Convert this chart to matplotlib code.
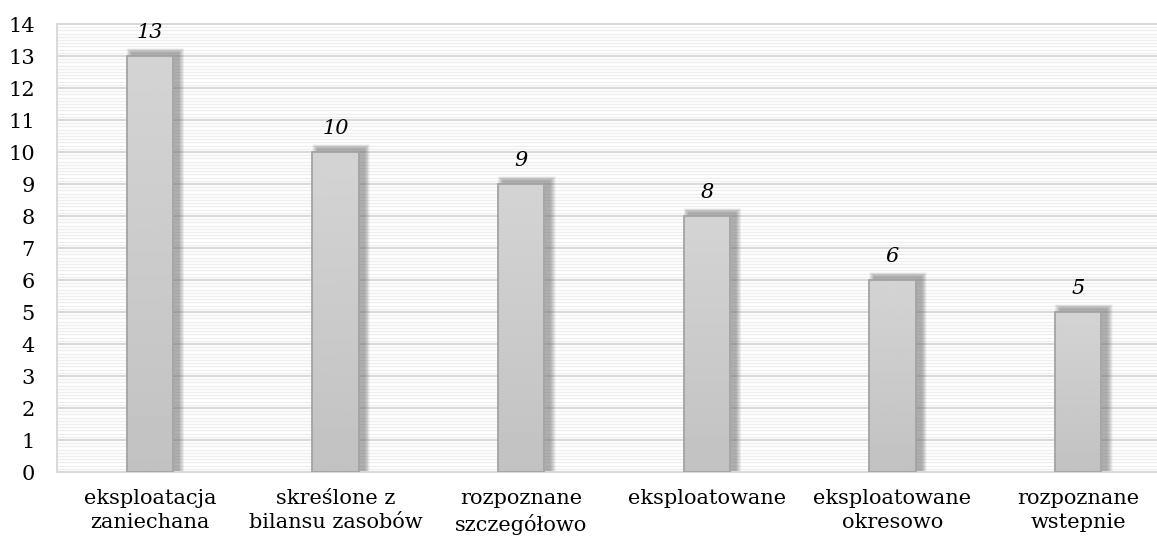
import numpy as np
import matplotlib.pyplot as plt
from matplotlib.patches import Rectangle

categories = ["eksploatacja\nzaniechana", "skreślone z\nbilansu zasobów", "rozpoznane\nszczegółowo",
              "eksploatowane", "eksploatowane\nokresowo", "rozpoznane\nwstepnie"]
values = [13, 10, 9, 8, 6, 5]
yticks = list(range(0, 15))

plt.rcParams['font.family'] = ['DejaVu Serif']

fig = plt.figure(figsize=(11.57, 5.42), dpi=100)
# plot area runs a bit past the right edge of the picture, as in the original
ax = fig.add_axes([57 / 1157, (542 - 472) / 542, 1114 / 1157, 448 / 542])

x = np.arange(len(values))
ax.set_xlim(-0.5, len(values) - 0.5)
ax.set_ylim(0, 14)

# fine stripe background
for yy in np.arange(0, 14, 0.1):
    ax.axhline(yy, color='#eeeeee', lw=0.9, zorder=0)
for yy in yticks:
    ax.axhline(yy, color='#d9d9d9', lw=1.4, zorder=1)

w = 0.25
grad = np.linspace(0.83, 0.76, 256).reshape(-1, 1)
for xi, v in zip(x, values):
    # soft shadow, top and right
    n = 12
    for k in range(n):
        d = 0.0025 * (n - k)
        ax.add_patch(Rectangle((xi - w / 2 + 0.03 - d, 0), w + 2 * d, v + 0.1 + 0.012 * (n - k),
                               facecolor='#606060', alpha=0.05, lw=0, zorder=2))
    bar = ax.bar(xi, v, width=w, color='#cccccc', edgecolor='none', zorder=3)[0]
    im = ax.imshow(grad, extent=[xi - w / 2, xi + w / 2, 0, v], aspect='auto',
                   cmap='gray', vmin=0, vmax=1, zorder=3.5)
    im.set_clip_path(bar)
    ax.add_patch(Rectangle((xi - w / 2, 0), w, v, fill=False, edgecolor='#a3a3a3', lw=1.3, zorder=4))
    ax.text(xi, v + 0.45, str(v), ha='center', va='bottom', fontsize=15, style='italic', zorder=5)

ax.set_xticks(x)
ax.set_xticklabels(categories, fontsize=15, linespacing=1.35)
ax.set_yticks(yticks)
ax.tick_params(axis='y', labelsize=15, length=0, pad=16)
ax.tick_params(axis='x', length=0, pad=12)
for s in ax.spines.values():
    s.set_color('#d9d9d9')
    s.set_linewidth(1.4)

fig.savefig('out.png', dpi=100)
